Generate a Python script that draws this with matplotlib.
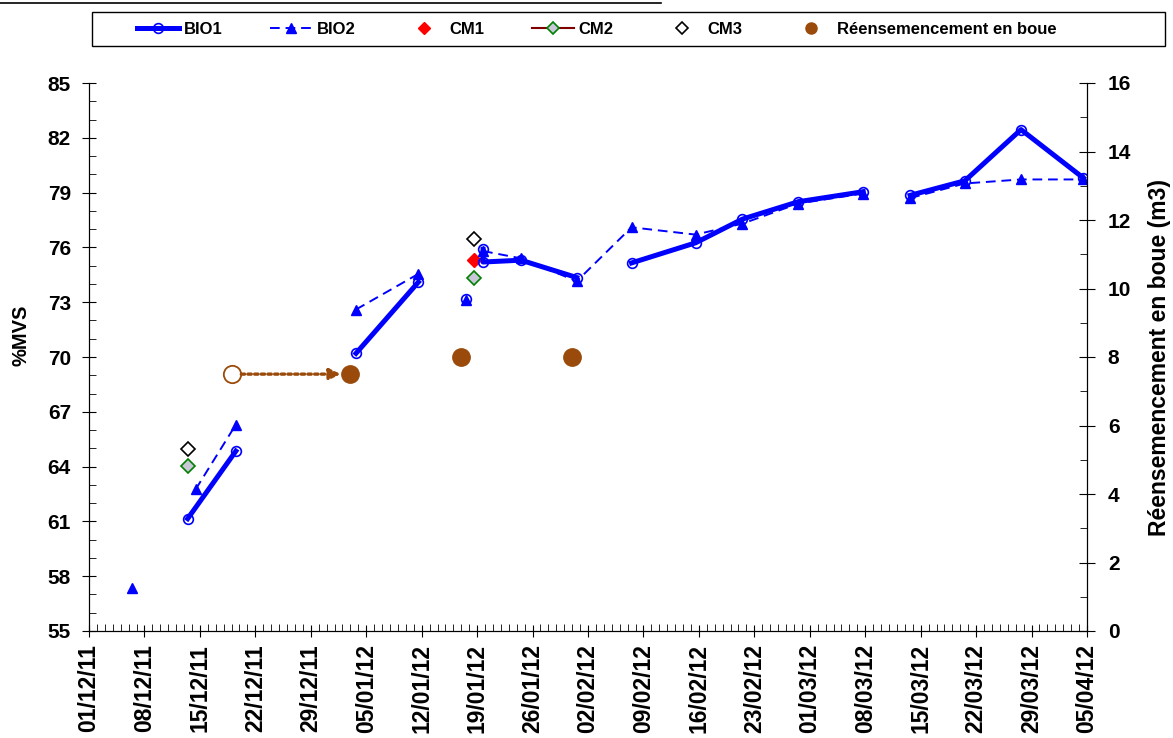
import numpy as np
import pandas as pd
import matplotlib
matplotlib.use("Agg")
import matplotlib.pyplot as plt
import matplotlib.dates as mdates
from matplotlib.ticker import MultipleLocator
from matplotlib.lines import Line2D
from matplotlib.patches import Rectangle

nan = np.nan

# %MVS, BIO1 (nan = break in the line)
bio1_dates = ["2011-12-13 11:00", "2011-12-19 13:00", "2011-12-25 00:00",
              "2012-01-03 17:00", "2012-01-11 14:00", "2012-01-14 00:00",
              "2012-01-17 14:00", "2012-01-18 00:00",
              "2012-01-19 18:00", "2012-01-19 18:00", "2012-01-24 13:00", "2012-01-31 14:00", "2012-02-04 00:00",
              "2012-02-07 12:00", "2012-02-15 14:00", "2012-02-21 12:00", "2012-02-28 13:00", "2012-03-07 18:00",
              "2012-03-10 00:00",
              "2012-03-13 16:00", "2012-03-20 14:00", "2012-03-27 16:00", "2012-04-04 13:00"]
bio1_values = [61.15, 64.85, nan,
               70.2, 74.1, nan,
               73.15, nan,
               75.9, 75.2, 75.3, 74.35, nan,
               75.15, 76.25, 77.55, 78.5, 79.05,
               nan,
               78.85, 79.65, 82.45, 79.8]

# %MVS, BIO2
bio2_dates = ["2011-12-06 11:00", "2011-12-10 00:00",
              "2011-12-14 11:00", "2011-12-19 13:00", "2011-12-25 00:00",
              "2012-01-03 17:00", "2012-01-11 14:00", "2012-01-14 00:00",
              "2012-01-17 14:00", "2012-01-18 00:00",
              "2012-01-19 18:00", "2012-01-24 13:00", "2012-01-31 14:00", "2012-02-07 12:00",
              "2012-02-15 14:00", "2012-02-21 12:00", "2012-02-28 13:00", "2012-03-07 18:00",
              "2012-03-10 00:00",
              "2012-03-13 16:00", "2012-03-20 14:00", "2012-03-27 16:00", "2012-04-04 13:00"]
bio2_values = [57.35, nan,
               62.75, 66.3, nan,
               72.6, 74.55, nan,
               73.1, nan,
               75.8, 75.4, 74.15, 77.1,
               76.7, 77.3, 78.4, 78.95,
               nan,
               78.7, 79.5, 79.72, 79.72]

cm1_dates = ["2012-01-18 14:00"]
cm1_values = [75.3]
cm2_dates = ["2011-12-13 11:00", "2012-01-01 00:00", "2012-01-18 14:00"]
cm2_values = [64.05, nan, 74.3]
cm3_dates = ["2011-12-13 11:00", "2012-01-18 14:00"]
cm3_values = [64.95, 76.45]

# re-seeding (m3), right axis
reens_dates = ["2012-01-03 00:00", "2012-01-17 00:00", "2012-01-31 00:00"]
reens_values = [7.5, 8.0, 8.0]
reens_prev_dates = ["2011-12-19 00:00"]
reens_prev_values = [7.5]

legend_labels = ["BIO1", "BIO2", "CM1", "CM2", "CM3", "Réensemencement en boue"]

plt.rcParams["font.family"] = ["Liberation Sans", "DejaVu Sans"]
plt.rcParams["font.weight"] = "bold"
plt.rcParams["axes.labelweight"] = "bold"

blue = "#0000FF"
brown = "#9A4B0B"


def d(x):
    return pd.to_datetime(x, format="ISO8601")


fig = plt.figure(figsize=(11.73, 7.38), dpi=100)
ax = fig.add_axes([89 / 1173, 1 - 631 / 738, 998 / 1173, 548 / 738])
ax2 = ax.twinx()

l1, = ax.plot(d(bio1_dates), bio1_values, color=blue, lw=3.6, marker="o", ms=7,
              mfc="none", mec=blue, mew=1.2, zorder=3)
l2, = ax.plot(d(bio2_dates), bio2_values, color=blue, lw=1.4, ls=(0, (5, 3)), marker="^",
              ms=7.5, mfc=blue, mec=blue, zorder=4)
l3, = ax.plot(d(cm1_dates), cm1_values, ls="none", marker="D", ms=7, mfc="red", mec="red")
l4, = ax.plot(d(cm2_dates), cm2_values, color="#800000", lw=1.5, marker="D", ms=7,
              mfc="#C8C8D8", mec="green", mew=1.2)
l5, = ax.plot(d(cm3_dates), cm3_values, ls="none", marker="D", ms=7, mfc="white",
              mec="black", mew=1.2)

l6, = ax2.plot(d(reens_dates), reens_values, ls="none", marker="o", ms=12.5, color=brown)
ax2.plot(d(reens_prev_dates), reens_prev_values, ls="none", marker="o", ms=12.5,
         mfc="white", mec=brown, mew=1.3)
ax2.annotate("", xy=(d(reens_dates)[0], reens_values[0]),
             xytext=(d(reens_prev_dates)[0], reens_prev_values[0]),
             arrowprops=dict(arrowstyle="-|>", color=brown, lw=2.4, linestyle=(0, (1, 1)),
                             shrinkA=7, shrinkB=7, mutation_scale=16))

ax.set_xlim(d("2011-12-01"), d("2012-04-05"))
ax.set_ylim(55, 85)
ax2.set_ylim(0, 16)

ax.set_xticks(pd.date_range("2011-12-01", "2012-04-05", freq="7D"))
ax.xaxis.set_major_formatter(mdates.DateFormatter("%d/%m/%y"))
ax.xaxis.set_minor_locator(mdates.DayLocator())
ax.set_yticks(np.arange(55, 86, 3))
ax.yaxis.set_minor_locator(MultipleLocator(1))
ax2.yaxis.set_major_locator(MultipleLocator(2))
ax2.yaxis.set_minor_locator(MultipleLocator(1))

ax.spines["top"].set_visible(False)
ax2.spines["top"].set_visible(False)

ax.tick_params(axis="x", which="major", direction="inout", length=9, labelsize=16.5,
               labelrotation=90, pad=5)
ax.tick_params(axis="x", which="minor", direction="in", length=5)
ax.tick_params(axis="y", which="major", direction="inout", length=10, labelsize=15, pad=8)
ax.tick_params(axis="y", which="minor", direction="in", length=5)
ax2.tick_params(axis="y", which="major", direction="inout", length=12, labelsize=15, pad=9)
ax2.tick_params(axis="y", which="minor", direction="in", length=5)

ax.set_ylabel("%MVS", fontsize=14.5)
ax.yaxis.set_label_coords(-58 / 998, 0.54)
ax2.set_ylabel("Réensemencement en boue (m3)", fontsize=16.5, labelpad=12)

fig.add_artist(Rectangle((92 / 1173, 1 - 46 / 738), 1073 / 1173, 34 / 738,
                         transform=fig.transFigure, fill=False, ec="black", lw=1.0))
leg = fig.legend([l1, l2, l3, l4, l5, l6], legend_labels,
                 loc="center left", bbox_to_anchor=(137 / 1173, 1 - 29 / 738),
                 ncol=6, frameon=False, prop=dict(weight="bold", size=12),
                 handlelength=2.5, handletextpad=0.3, columnspacing=2.85,
                 borderpad=0, borderaxespad=0)
leg.legend_handles[5].set_markersize(8)
for h in leg.legend_handles[2:5]:
    h.set_markersize(6)

fig.add_artist(Line2D([0, 661 / 1173], [1 - 3 / 738, 1 - 3 / 738], color="black", lw=1.2))

fig.savefig("out.png", dpi=100)
